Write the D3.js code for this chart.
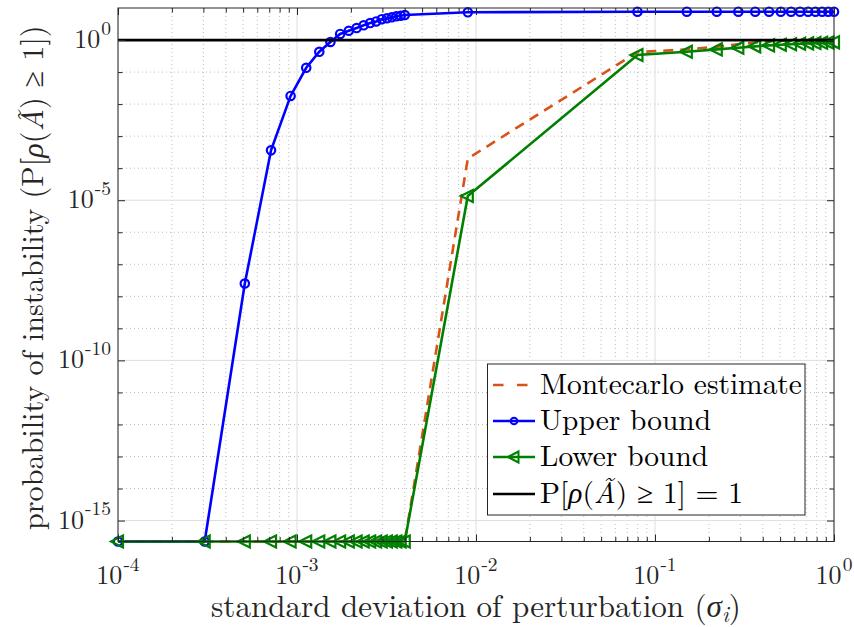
<!DOCTYPE html>
<html><head><meta charset="utf-8">
<script src="https://cdn.jsdelivr.net/npm/d3@7"></script>
<style>
body{margin:0;background:#fff}
svg{display:block}
</style>
</head><body>
<svg id="chart" width="854" height="627"></svg>
<script>
// ---------------- data ----------------
const sigma = [1.0e-4, 3.05e-4, 5.11e-4, 7.16e-4, 9.21e-4, 1.126e-3, 1.332e-3, 1.537e-3, 1.742e-3, 1.947e-3,
  2.153e-3, 2.358e-3, 2.563e-3, 2.768e-3, 2.974e-3, 3.179e-3, 3.384e-3, 3.589e-3, 3.795e-3, 4.0e-3,
  0.009, 0.0798, 0.1506, 0.2214, 0.2921, 0.3629, 0.4337, 0.5045, 0.5753, 0.6461, 0.7169, 0.7876, 0.8584, 0.9292, 1.0];
const EPS = 2.2204e-16;
const montecarlo = [EPS, EPS, EPS, EPS, EPS, EPS, EPS, EPS, EPS, EPS,
  EPS, EPS, EPS, EPS, EPS, EPS, EPS, EPS, EPS, EPS,
  2.0e-4, 0.42, 0.51, 0.62, 0.74, 0.84, 0.91, 0.955, 0.98, 0.99, 1.0, 1.0, 1.0, 1.0, 1.0];
const upperBound = [EPS, EPS, 2.5e-8, 3.6e-4, 0.018, 0.136, 0.43, 0.87, 1.55, 1.95,
  2.37, 2.88, 3.39, 3.8, 4.47, 4.79, 5.13, 5.5, 5.75, 6.03,
  7.35, 7.67, 7.67, 7.67, 7.67, 7.67, 7.67, 7.67, 7.67, 7.67, 7.67, 7.67, 7.67, 7.67, 7.67];
const lowerBound = [EPS, EPS, EPS, EPS, EPS, EPS, EPS, EPS, EPS, EPS,
  EPS, EPS, EPS, EPS, EPS, EPS, EPS, EPS, EPS, EPS,
  1.35e-5, 0.34, 0.43, 0.51, 0.575, 0.635, 0.68, 0.716, 0.74, 0.764, 0.785, 0.803, 0.818, 0.834, 0.847];
const referenceLevel = 1;
const xTickExponents = [-4, -3, -2, -1, 0];
const yTickExponents = [-15, -10, -5, 0];
const yDecadeExponents = [-15, -14, -13, -12, -11, -10, -9, -8, -7, -6, -5, -4, -3, -2, -1, 0, 1];
const legendLabels = ["Montecarlo estimate", "Upper bound", "Lower bound"];

// ---------------- layout ----------------
const FONT = "'Latin Modern Roman'";
const L = 118, R = 834, T = 8, B = 541.5;
const AX = "#262626";
const C_MC = "#d95319", C_UP = "#0000ff", C_LO = "#008000";
const svg = d3.select("#chart");

const x = d3.scaleLog().domain([1e-4, 1]).range([L, R]);
const y = d3.scaleLog().domain([EPS, 10]).range([B, T]);

// ---------------- grid ----------------
const grid = svg.append("g");
const xAll = x.ticks();
const isPow10 = v => Math.abs(Math.log10(v) - Math.round(Math.log10(v))) < 1e-9;
grid.selectAll(".xm").data(xAll.filter(v => !isPow10(v))).join("line")
  .attr("x1", d => x(d)).attr("x2", d => x(d)).attr("y1", T).attr("y2", B)
  .attr("stroke", "#bcbcbc").attr("stroke-width", 1).attr("stroke-dasharray", "1,3");
const yMinor = yDecadeExponents.filter(e => !yTickExponents.includes(e) && e < 1).map(e => Math.pow(10, e));
grid.selectAll(".ym").data(yMinor).join("line")
  .attr("x1", L).attr("x2", R).attr("y1", d => y(d)).attr("y2", d => y(d))
  .attr("stroke", "#bcbcbc").attr("stroke-width", 1).attr("stroke-dasharray", "1,3");
grid.selectAll(".xM").data(xTickExponents.map(e => Math.pow(10, e))).join("line")
  .attr("x1", d => x(d)).attr("x2", d => x(d)).attr("y1", T).attr("y2", B)
  .attr("stroke", "#dedede").attr("stroke-width", 1);
grid.selectAll(".yM").data(yTickExponents.map(e => Math.pow(10, e))).join("line")
  .attr("x1", L).attr("x2", R).attr("y1", d => y(d)).attr("y2", d => y(d))
  .attr("stroke", "#dedede").attr("stroke-width", 1);

// ---------------- series ----------------
const line = d3.line().x(d => x(d[0])).y(d => y(d[1]));
const mcData = sigma.map((s, i) => [s, montecarlo[i]]);
const upData = sigma.map((s, i) => [s, upperBound[i]]);
const loData = sigma.map((s, i) => [s, lowerBound[i]]);
const LW = 2.6;

svg.append("path").datum(mcData).attr("d", line).attr("fill", "none")
  .attr("stroke", C_MC).attr("stroke-width", LW).attr("stroke-dasharray", "10,7");

svg.append("path").datum(upData).attr("d", line).attr("fill", "none")
  .attr("stroke", C_UP).attr("stroke-width", LW);
svg.append("g").selectAll("circle").data(upData).join("circle")
  .attr("cx", d => x(d[0])).attr("cy", d => y(d[1])).attr("r", 4.2)
  .attr("fill", "none").attr("stroke", C_UP).attr("stroke-width", 2.2);

const triPath = "M-7,0L5,-6L5,6Z";
svg.append("path").datum(loData).attr("d", line).attr("fill", "none")
  .attr("stroke", C_LO).attr("stroke-width", LW);
svg.append("g").selectAll("path").data(loData).join("path")
  .attr("d", triPath).attr("transform", d => `translate(${x(d[0])},${y(d[1])})`)
  .attr("fill", "none").attr("stroke", C_LO).attr("stroke-width", 2.2);

svg.append("line").attr("x1", x(1e-4)).attr("x2", x(1)).attr("y1", y(referenceLevel)).attr("y2", y(referenceLevel))
  .attr("stroke", "#000").attr("stroke-width", 2.8);

// ---------------- axes (inward ticks on all sides) ----------------
const xMajor = xTickExponents.map(e => Math.pow(10, e));
const xMinor = xAll.filter(v => !isPow10(v));
function addAxis(axisGen, tr) {
  const g = svg.append("g").attr("transform", tr).call(axisGen);
  g.selectAll(".domain").remove();
  g.selectAll("line").attr("stroke", AX).attr("stroke-width", 1);
  g.selectAll("text").remove();
  return g;
}
addAxis(d3.axisBottom(x).tickValues(xMajor).tickSize(-7), `translate(0,${B})`);
addAxis(d3.axisBottom(x).tickValues(xMinor).tickSize(-4.5), `translate(0,${B})`);
addAxis(d3.axisTop(x).tickValues(xMajor).tickSize(-7), `translate(0,${T})`);
addAxis(d3.axisTop(x).tickValues(xMinor).tickSize(-4.5), `translate(0,${T})`);
const yMajor = yTickExponents.map(e => Math.pow(10, e));
addAxis(d3.axisLeft(y).tickValues(yMajor).tickSize(-7), `translate(${L},0)`);
addAxis(d3.axisLeft(y).tickValues(yMinor).tickSize(-4.5), `translate(${L},0)`);
addAxis(d3.axisRight(y).tickValues(yMajor).tickSize(-7), `translate(${R},0)`);
addAxis(d3.axisRight(y).tickValues(yMinor).tickSize(-4.5), `translate(${R},0)`);
svg.append("rect").attr("x", L).attr("y", T).attr("width", R - L).attr("height", B - T)
  .attr("fill", "none").attr("stroke", AX).attr("stroke-width", 1);

function txt(parent) {
  return parent.append("text").style("font-family", FONT);
}

// tick labels 10^e
function powLabel(g, e) {
  g.append("tspan").style("font-family", FONT).text("10");
  g.append("tspan").style("font-family", FONT).attr("font-size", 19.5).attr("dx", 1).attr("dy", -13.5).text(String(e));
}
xTickExponents.forEach(e => {
  const t = txt(svg).attr("y", 584).attr("font-size", 26).attr("fill", AX).attr("text-anchor", "middle")
    .attr("x", x(Math.pow(10, e)));
  powLabel(t, e);
});
yTickExponents.forEach(e => {
  const t = txt(svg).attr("x", 111).attr("y", y(Math.pow(10, e)) + 8).attr("font-size", 26)
    .attr("fill", AX).attr("text-anchor", "end");
  powLabel(t, e);
});

// rich text helper: segments [text, style]
function rich(sel, segs) {
  segs.forEach(s => {
    const ts = sel.append("tspan").style("font-family", FONT).text(s[0]);
    if (s[1] === "i") ts.attr("font-style", "italic");
    if (s[1] === "sub") ts.attr("font-style", "italic").attr("font-size", "0.72em").attr("dy", 5);
    if (s[1] === "after") ts.attr("dy", -5);
  });
}
// scale font size so the text spans the target width
function fitSize(sel, target) {
  const w = sel.node().getComputedTextLength();
  const fs = parseFloat(sel.attr("font-size"));
  if (w > 0) sel.attr("font-size", fs * target / w);
}

// axis labels
const xl = txt(svg).attr("x", (L + R) / 2).attr("y", 617).attr("font-size", 26)
  .attr("fill", AX).attr("text-anchor", "middle");
rich(xl, [["standard deviation of perturbation (", ""], ["σ", "i"], ["i", "sub"], [")", "after"]]);
fitSize(xl, 530);

const yl = txt(svg).attr("transform", `translate(43,${(T + B) / 2 + 3}) rotate(-90)`)
  .attr("font-size", 26).attr("fill", AX).attr("text-anchor", "middle");
rich(yl, [["probability of instability (P[", ""], ["ρ", "i"], ["(", ""], ["Ã", "i"], [") ≥ 1])", ""]]);
fitSize(yl, 505);

// ---------------- legend ----------------
const lg = svg.append("g");
lg.append("rect").attr("x", 487.5).attr("y", 364).attr("width", 317.5).attr("height", 151)
  .attr("fill", "#fff").attr("stroke", AX).attr("stroke-width", 1);
const rowY = [385, 421, 457, 494];
const sx1 = 493, sx2 = 535, smid = 514;
lg.append("line").attr("x1", sx1).attr("x2", sx2).attr("y1", rowY[0]).attr("y2", rowY[0])
  .attr("stroke", C_MC).attr("stroke-width", LW).attr("stroke-dasharray", "10.5,13.5");
lg.append("line").attr("x1", sx1).attr("x2", sx2).attr("y1", rowY[1]).attr("y2", rowY[1])
  .attr("stroke", C_UP).attr("stroke-width", LW);
lg.append("circle").attr("cx", smid).attr("cy", rowY[1]).attr("r", 3.3)
  .attr("fill", "none").attr("stroke", C_UP).attr("stroke-width", 2);
lg.append("line").attr("x1", sx1).attr("x2", sx2).attr("y1", rowY[2]).attr("y2", rowY[2])
  .attr("stroke", C_LO).attr("stroke-width", LW);
lg.append("path").attr("d", "M-6,0L4.5,-5.5L4.5,5.5Z").attr("transform", `translate(${smid},${rowY[2]})`)
  .attr("fill", "none").attr("stroke", C_LO).attr("stroke-width", 2);
lg.append("line").attr("x1", sx1).attr("x2", sx2).attr("y1", rowY[3]).attr("y2", rowY[3])
  .attr("stroke", "#000").attr("stroke-width", LW);
let legendFs = 27;
legendLabels.forEach((lab, i) => {
  const t = txt(lg).attr("x", 540).attr("y", rowY[i] + 9).attr("font-size", 27).attr("fill", "#000").text(lab);
  if (i === 0) { fitSize(t, 262); legendFs = parseFloat(t.attr("font-size")); }
  else t.attr("font-size", legendFs);
});
const l4 = txt(lg).attr("x", 540).attr("y", rowY[3] + 9).attr("font-size", legendFs).attr("fill", "#000");
rich(l4, [["P[", ""], ["ρ", "i"], ["(", ""], ["Ã", "i"], [") ≥ 1] = 1", ""]]);
</script>
</body></html>
